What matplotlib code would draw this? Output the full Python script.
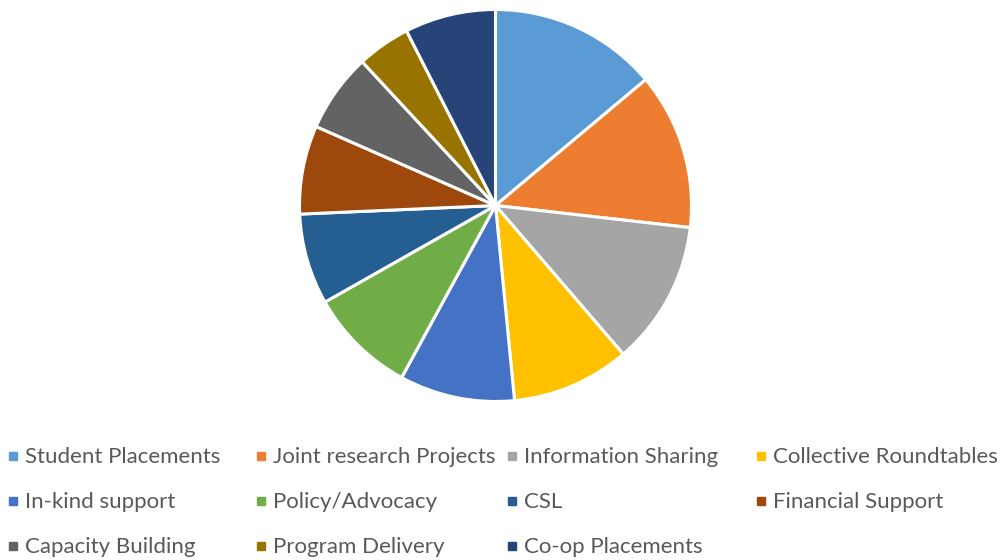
import matplotlib.pyplot as plt
from matplotlib.patches import Rectangle

labels = ["Student Placements", "Joint research Projects", "Information Sharing",
          "Collective Roundtables", "In-kind support", "Policy/Advocacy", "CSL",
          "Financial Support", "Capacity Building", "Program Delivery", "Co-op Placements"]
values = [13.9, 12.9, 11.9, 9.75, 9.5, 8.85, 7.5, 7.3, 6.5, 4.4, 7.5]
colors = ["#5B9BD5", "#ED7D31", "#A5A5A5", "#FFC000", "#4472C4", "#70AD47",
          "#255E91", "#9E480E", "#636363", "#997300", "#264478"]

W, H = 1008, 560
fig = plt.figure(figsize=(W / 100, H / 100), dpi=100)

# pie centred at (495.5, 205.5) px, radius 196 px
cx, cy, r = 495.5, 205.5, 196
ax = fig.add_axes([(cx - r) / W, (H - cy - r) / H, 2 * r / W, 2 * r / H])
ax.pie(values, colors=colors, startangle=90, counterclock=False,
       wedgeprops=dict(edgecolor="white", linewidth=2.2))
ax.set_xlim(-1, 1)
ax.set_ylim(-1, 1)
ax.set_aspect("equal")
ax.axis("off")

# legend grid, 4 columns (text x, baseline y in px)
col_x = [25, 273, 524, 773]
row_y = [463, 508, 553]
for i, (lab, c) in enumerate(zip(labels, colors)):
    x = col_x[i % 4]
    y = row_y[i // 4]
    fig.patches.append(Rectangle(((x - 16) / W, (H - y + 3) / H), 8 / W, 8 / H,
                                 transform=fig.transFigure, color=c))
    fig.text(x / W, (H - y) / H, lab, fontsize=16, family="Lato",
             color="#595959", va="baseline", ha="left")

fig.savefig("out.png", dpi=100, facecolor="white")
